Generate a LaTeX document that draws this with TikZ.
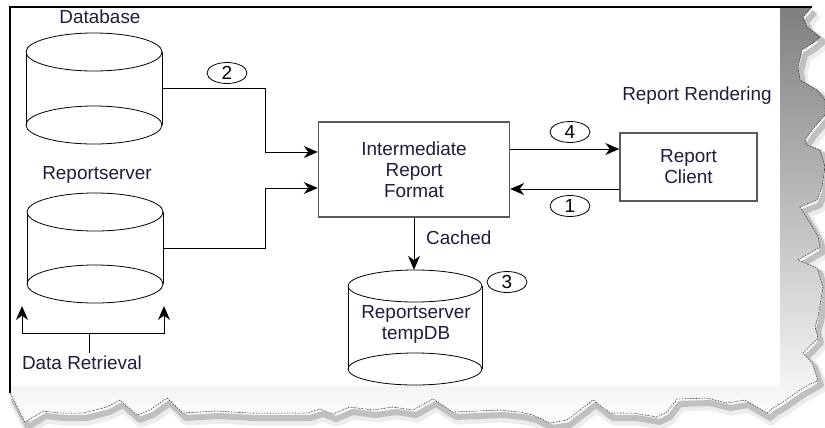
\documentclass[tikz,border=0pt]{standalone}
\usepackage{fontspec}
\setmainfont{Liberation Sans}
\usetikzlibrary{arrows.meta,calc,shapes.geometric,fit}
\definecolor{txt}{HTML}{1E1E3C}
\definecolor{shade}{HTML}{B4B4B4}
\definecolor{boxline}{HTML}{5A5A5A}
\newcommand\mycyl[6]{% name, cx, cytop, cybot, rx, ry
  \fill[white] (#2-#5,#3) rectangle (#2+#5,#4);
  \draw[cylline] (#2-#5,#3) -- (#2-#5,#4);
  \draw[cylline] (#2+#5,#3) -- (#2+#5,#4);
  \draw[cylline,fill=white] (#2,#3) ellipse [x radius=#5bp, y radius=#6bp];
  \draw[cylline] (#2,#4) ellipse [x radius=#5bp, y radius=#6bp];
  \node[fit={(#2-#5,#3-#6) (#2+#5,#4+#6)}, inner sep=0pt] (#1) {};
}
\def\jag{(812,7) -- (803,17) -- (807,27) -- (820,37) -- (813,43) -- (802,50) -- (798,67) -- (800,80) -- (817,90) -- (825,100) -- (825,115) -- (812,130) -- (805,140) -- (807,145) -- (820,150) -- (825,167) -- (822,187) -- (817,200) -- (800,207) -- (810,223) -- (818,237) -- (820,247) -- (798,260) -- (817,268) -- (823,287) -- (818,317) -- (815,327) -- (818,338) -- (803,353) -- (812,363) -- (818,380) -- (800,390) -- (783,402) -- (773,408) -- (767,413) -- (757,407) -- (745,400) -- (727,403) -- (707,398) -- (677,399) -- (667,412) -- (657,417) -- (633,413) -- (610,413) -- (593,400) -- (567,420) -- (550,423) -- (533,415) -- (520,412) -- (500,410) -- (453,412) -- (433,399) -- (413,410) -- (393,407) -- (373,410) -- (350,407) -- (333,414) -- (320,409) -- (307,413) -- (283,413) -- (250,413) -- (217,411) -- (183,413) -- (167,398) -- (150,410) -- (137,415) -- (120,400) -- (107,407) -- (83,413) -- (60,413) -- (43,411) -- (25,422) -- (10,393)}
\begin{document}
\begin{tikzpicture}[x=1bp,y=-1bp,
  lbl/.style={font=\fontsize{19}{21}\selectfont, text=txt, inner sep=0pt},
  box/.style={draw=boxline, line width=1.4bp, fill=white, align=center,
    font=\fontsize{19}{21}\selectfont, text=txt, inner sep=0pt},
  num/.style={ellipse, draw=black, line width=0.8bp, minimum width=40bp,
    minimum height=21bp, inner sep=0pt, font=\fontsize{19}{21}\selectfont, text=black},
  arr/.style={draw=black, line width=1bp, -{Stealth[length=14bp,width=12bp,inset=4.5bp]}},
  conn/.style={draw=black, line width=1bp},
  cylline/.style={draw=black, line width=0.8bp}
]
\useasboundingbox (0,0) rectangle (825,427);
% torn-edge shadow frame
\draw[black!45, line width=6bp, opacity=0.5, line join=round, shift={(3,5)}] \jag;
\draw[black!30, line width=11bp, opacity=0.25, line join=round, shift={(4,7)}] \jag;
\fill[shade] \jag -- (10,386) -- (780,386) -- (780,7) -- cycle;
\draw[black!75, line width=0.8bp, dotted] \jag;
\fill[white] (10,7) rectangle (780,386);
\draw[black, line width=1.2bp] (10,393) -- (10,7) -- (812,7);

% sources
\node[lbl] (dblbl) at (100,17) {Database};
\mycyl{db}{94}{52}{125}{68}{19}
\node[lbl] (rslbl) at (97,175) {Reportserver};
\mycyl{rs}{95}{212}{284}{68}{19}

% data retrieval
\node[lbl] (dr) at (82,363) {Data Retrieval};
\coordinate (drj) at (89,333);
\coordinate (aL) at (22,306);
\coordinate (aR) at (164,306);
\draw[conn] (89,353) -- (drj);
\draw[arr] (drj) -| (aL);
\draw[arr] (drj) -| (aR);

% intermediate report format
\node[box, minimum width=191bp, minimum height=95bp] (irf) at (414,169.5)
  {Intermediate\\Report\\Format};
\coordinate (in1) at (265,152);
\coordinate (in2) at (265,188);
\draw[arr] (db.east) -| (in1) -- (irf.west |- in1);
\draw[arr] (rs.east) -| (in2) -- (irf.west |- in2);
\node[num] (c2) at (227,73) {2};

% report client
\node[lbl] (rr) at (697,96) {Report Rendering};
\node[box, minimum width=137bp, minimum height=68bp] (rc) at (688.5,167)
  {Report\\Client};
\coordinate (y4) at (0,149);
\coordinate (y1) at (0,189);
\draw[arr] (irf.east |- y4) -- (rc.west |- y4);
\draw[arr] (rc.west |- y1) -- (irf.east |- y1);
\node[num] (c4) at (570,132) {4};
\node[num] (c1) at (570,206) {1};

% cached temp db
\mycyl{tdb}{415}{286}{369}{67}{16}
\node[lbl, align=center] (tdbtxt) at (416,324) {Reportserver\\tempDB};
\draw[arr] (irf.south) -- (irf.south |- tdb.north);
\node[lbl, anchor=west] (cached) at (426,238) {Cached};
\node[num] (c3) at (507,282) {3};
\end{tikzpicture}
\end{document}
